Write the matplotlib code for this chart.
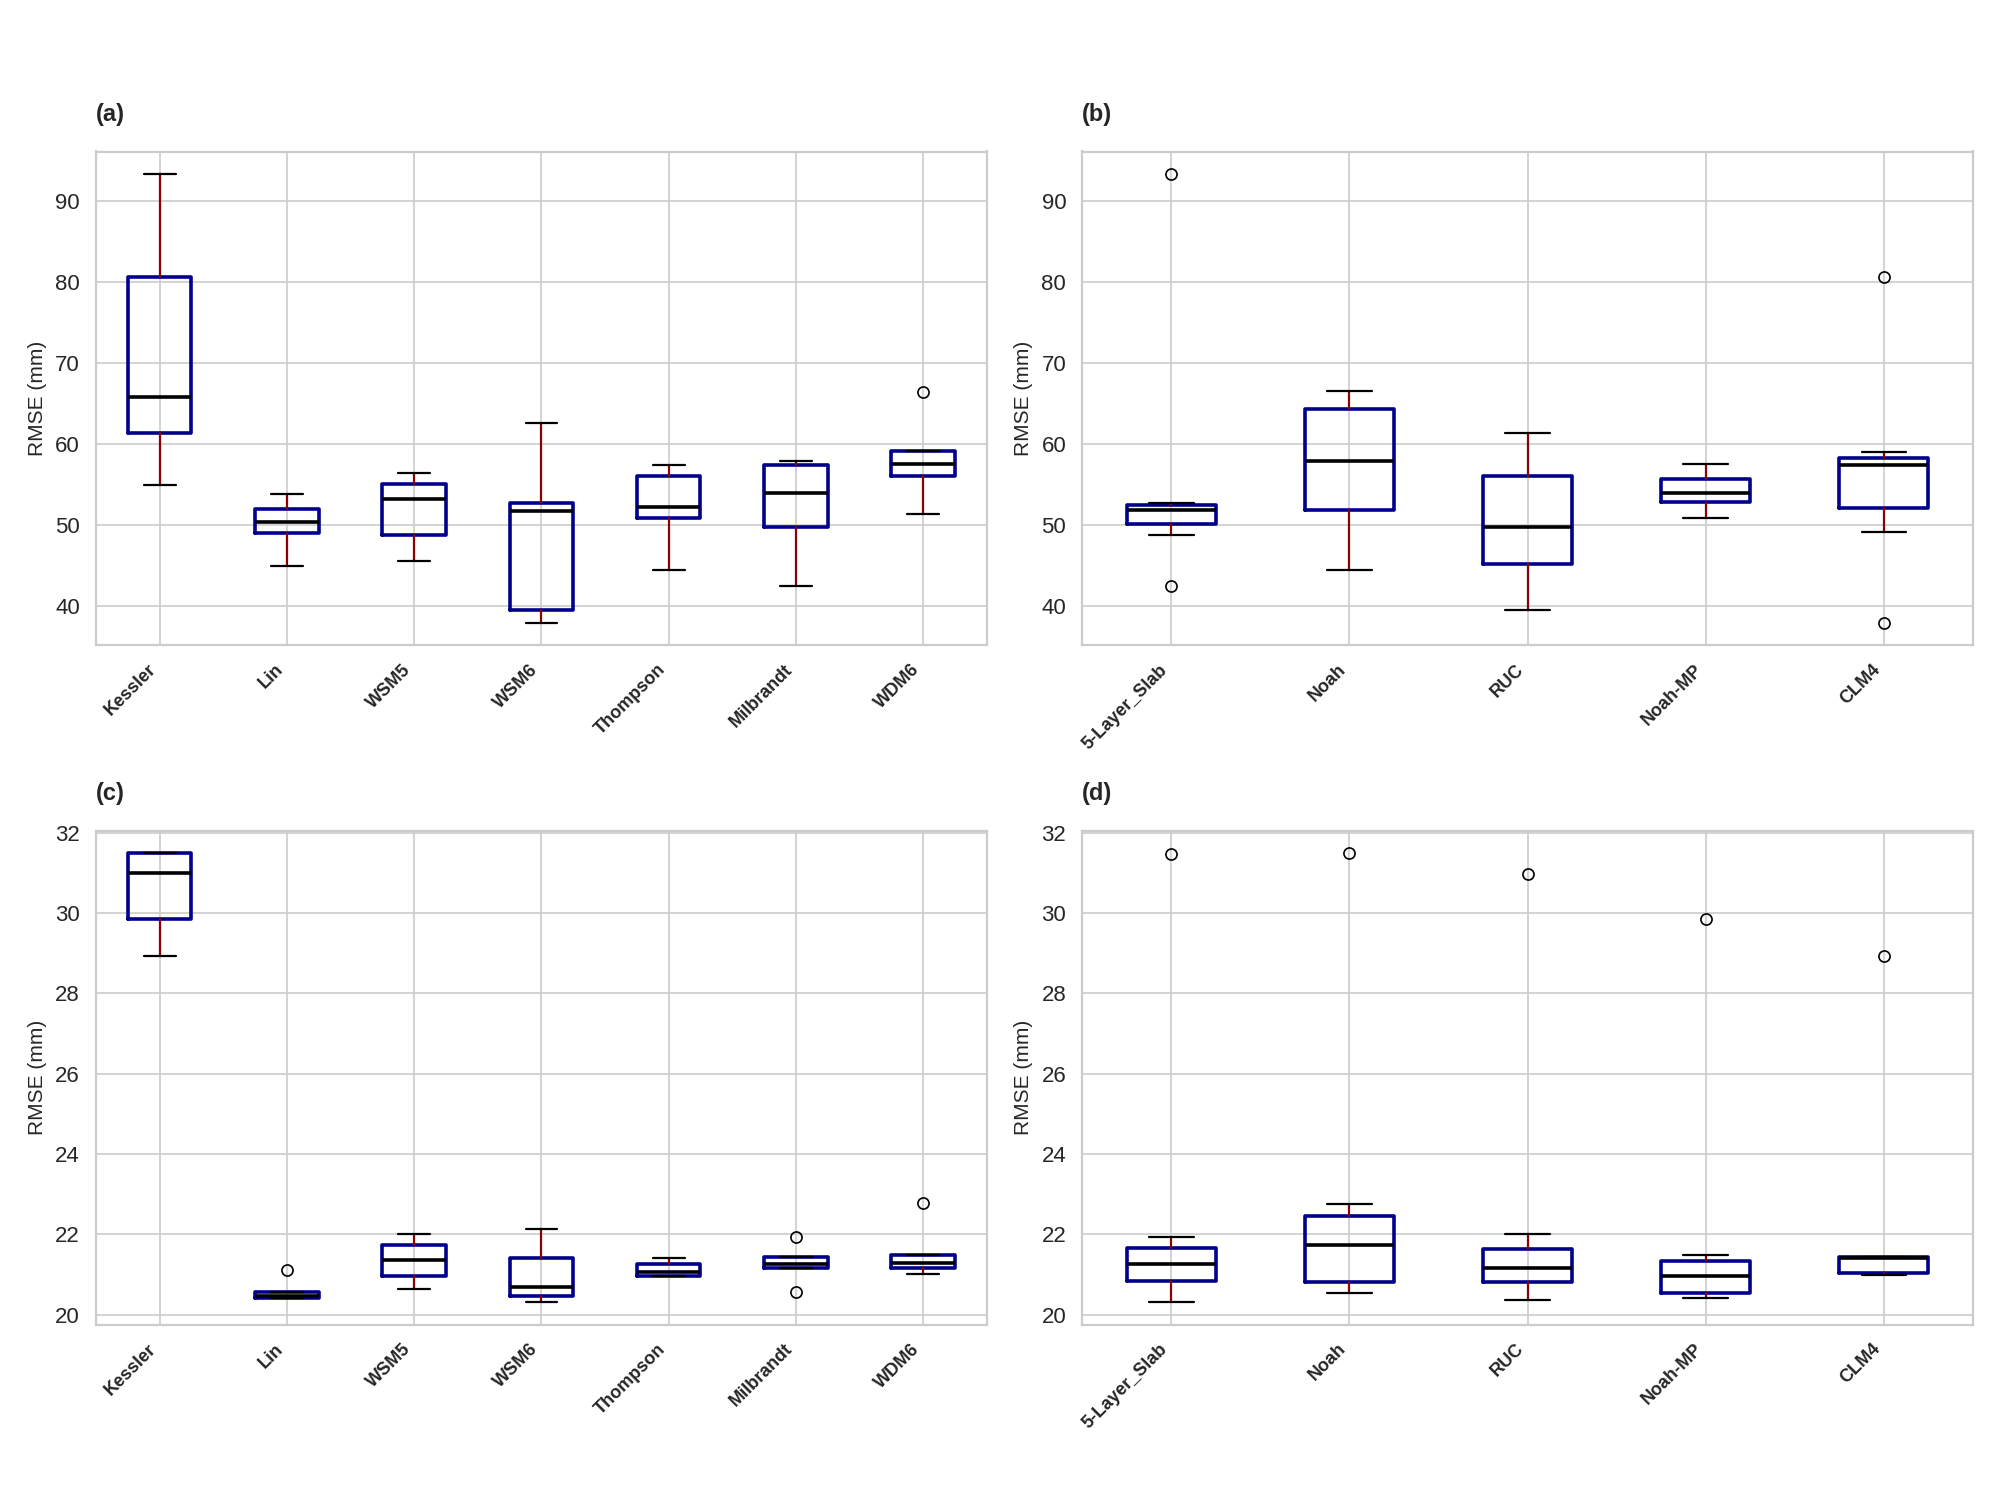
import matplotlib
matplotlib.use("Agg")
import matplotlib.pyplot as plt
import seaborn as sns

sns.set_style("whitegrid")
plt.rcParams["font.family"] = ["Liberation Sans", "DejaVu Sans"]

mp_schemes = ["Kessler", "Lin", "WSM5", "WSM6", "Thompson", "Milbrandt", "WDM6"]
lsm_schemes = ["5-Layer_Slab", "Noah", "RUC", "Noah-MP", "CLM4"]

# (a) RMSE by microphysics scheme
whislo_a = [54.9, 44.9, 45.5, 37.9, 44.4, 42.4, 51.4]
q1_a = [61.4, 49.0, 48.8, 39.5, 50.9, 49.7, 56.0]
med_a = [65.8, 50.4, 53.2, 51.7, 52.2, 53.9, 57.5]
q3_a = [80.6, 52.0, 55.0, 52.7, 56.0, 57.4, 59.1]
whishi_a = [93.4, 53.8, 56.4, 62.6, 57.4, 57.9, 59.1]
fliers_a = [[], [], [], [], [], [], [66.4]]

# (b) RMSE by land surface model
whislo_b = [48.8, 44.4, 39.5, 50.9, 49.1]
q1_b = [50.1, 51.8, 45.2, 52.8, 52.1]
med_b = [51.9, 57.9, 49.8, 53.9, 57.4]
q3_b = [52.5, 64.3, 56.0, 55.7, 58.3]
whishi_b = [52.7, 66.5, 61.4, 57.5, 59.0]
fliers_b = [[93.4, 42.4], [], [], [], [80.6, 37.9]]

# (c)
whislo_c = [28.92, 20.40, 20.64, 20.31, 20.95, 21.15, 21.00]
q1_c = [29.86, 20.40, 20.95, 20.45, 20.95, 21.15, 21.15]
med_c = [30.99, 20.47, 21.35, 20.68, 21.06, 21.27, 21.28]
q3_c = [31.49, 20.56, 21.73, 21.40, 21.27, 21.43, 21.49]
whishi_c = [31.49, 20.56, 22.01, 22.12, 21.41, 21.43, 21.49]
fliers_c = [[], [21.10], [], [], [], [21.94, 20.57], [22.77]]

# (d)
whislo_d = [20.31, 20.54, 20.37, 20.40, 20.98]
q1_d = [20.83, 20.82, 20.82, 20.54, 21.04]
med_d = [21.27, 21.72, 21.17, 20.95, 21.40]
q3_d = [21.66, 22.46, 21.64, 21.34, 21.43]
whishi_d = [21.94, 22.76, 22.01, 21.48, 21.43]
fliers_d = [[31.47], [31.49], [30.98], [29.85], [28.92]]


def make_stats(labels, lo, q1, med, q3, hi, fl):
    stats = []
    for i in range(len(labels)):
        stats.append({
            "label": labels[i],
            "whislo": lo[i],
            "q1": q1[i],
            "med": med[i],
            "q3": q3[i],
            "whishi": hi[i],
            "fliers": fl[i],
        })
    return stats


panels = [
    ("(a)", make_stats(mp_schemes, whislo_a, q1_a, med_a, q3_a, whishi_a, fliers_a)),
    ("(b)", make_stats(lsm_schemes, whislo_b, q1_b, med_b, q3_b, whishi_b, fliers_b)),
    ("(c)", make_stats(mp_schemes, whislo_c, q1_c, med_c, q3_c, whishi_c, fliers_c)),
    ("(d)", make_stats(lsm_schemes, whislo_d, q1_d, med_d, q3_d, whishi_d, fliers_d)),
]

fig, axes = plt.subplots(2, 2, figsize=(20, 15), dpi=100)
fig.subplots_adjust(left=0.048, right=0.9865, top=0.899, bottom=0.117,
                    wspace=0.107, hspace=0.376)

for ax, (tag, stats) in zip(axes.flat, panels):
    ax.bxp(stats, widths=0.5,
           boxprops=dict(color="#00008b", linewidth=2.6),
           whiskerprops=dict(color="#8b0000", linewidth=1.6),
           capprops=dict(color="black", linewidth=1.6),
           medianprops=dict(color="black", linewidth=2.6),
           flierprops=dict(marker="o", markerfacecolor="none",
                           markeredgecolor="black", markersize=8,
                           markeredgewidth=1.2))
    ax.set_title(tag, loc="left", fontweight="bold", fontsize=17, pad=22)
    ax.set_ylabel("RMSE (mm)", fontsize=15, color="#262626", labelpad=6)
    ax.tick_params(axis="y", labelsize=16, pad=8, colors="#262626")
    ax.tick_params(axis="x", labelsize=13, pad=8)
    plt.setp(ax.get_xticklabels(), rotation=45, ha="right", fontweight="bold")
    ax.grid(True, color="#cccccc", linewidth=1.2)
    for s in ax.spines.values():
        s.set_color("#cccccc")
        s.set_linewidth(1.6)

fig.savefig("out.png", dpi=100)
